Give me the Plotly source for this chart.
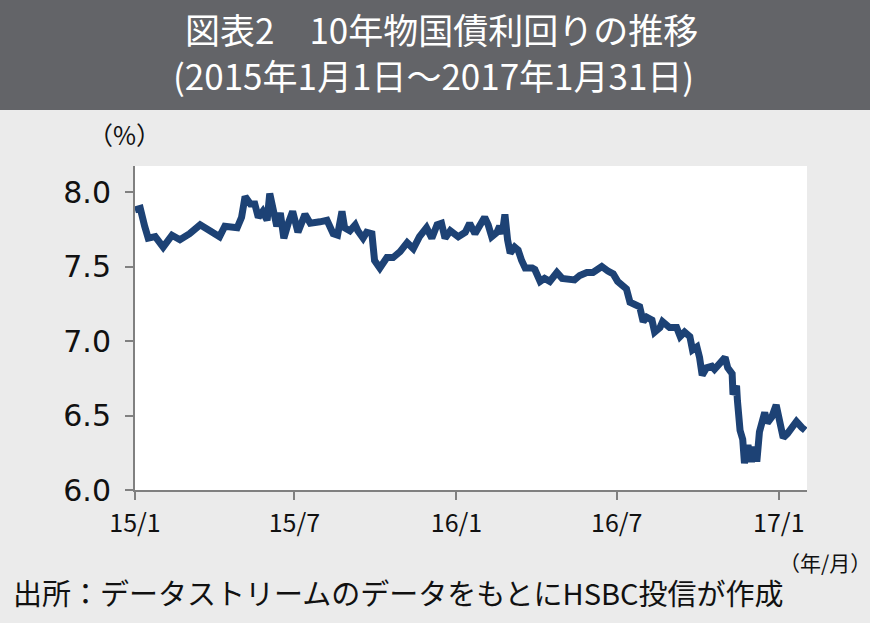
import plotly.graph_objects as go

dates = [
    "2015-01-01", "2015-01-07", "2015-01-12", "2015-01-16", "2015-01-24", "2015-02-02",
    "2015-02-12", "2015-02-21", "2015-03-04", "2015-03-16", "2015-03-27", "2015-04-07",
    "2015-04-13", "2015-04-27", "2015-05-02", "2015-05-06", "2015-05-12", "2015-05-17",
    "2015-05-21", "2015-05-26", "2015-05-31", "2015-06-03", "2015-06-07", "2015-06-11",
    "2015-06-15", "2015-06-19", "2015-06-24", "2015-06-29", "2015-07-05", "2015-07-13",
    "2015-07-19", "2015-07-24", "2015-07-30", "2015-08-07", "2015-08-14", "2015-08-19",
    "2015-08-24", "2015-08-27", "2015-09-02", "2015-09-08", "2015-09-11", "2015-09-17",
    "2015-09-21", "2015-09-27", "2015-09-30", "2015-10-06", "2015-10-14", "2015-10-21",
    "2015-10-29", "2015-11-06", "2015-11-13", "2015-11-20", "2015-11-28", "2015-12-04",
    "2015-12-10", "2015-12-15", "2015-12-19", "2015-12-25", "2016-01-03", "2016-01-11",
    "2016-01-16", "2016-01-22", "2016-01-28", "2016-02-02", "2016-02-06", "2016-02-10",
    "2016-02-16", "2016-02-19", "2016-02-22", "2016-02-25", "2016-02-28", "2016-03-02",
    "2016-03-07", "2016-03-11", "2016-03-15", "2016-03-19", "2016-03-27", "2016-03-30",
    "2016-04-05", "2016-04-10", "2016-04-16", "2016-04-24", "2016-04-30", "2016-05-09",
    "2016-05-14", "2016-05-20", "2016-05-28", "2016-06-04", "2016-06-14", "2016-06-21",
    "2016-06-27", "2016-07-02", "2016-07-08", "2016-07-12", "2016-07-16", "2016-07-24",
    "2016-07-27", "2016-07-31", "2016-08-04", "2016-08-10", "2016-08-13", "2016-08-19",
    "2016-08-22", "2016-08-30", "2016-09-07", "2016-09-11", "2016-09-16", "2016-09-22",
    "2016-09-25", "2016-09-30", "2016-10-03", "2016-10-06", "2016-10-11", "2016-10-17",
    "2016-10-20", "2016-10-26", "2016-11-01", "2016-11-04", "2016-11-09", "2016-11-10",
    "2016-11-14", "2016-11-15", "2016-11-18", "2016-11-21", "2016-11-23", "2016-11-27",
    "2016-12-01", "2016-12-05", "2016-12-07", "2016-12-10", "2016-12-16", "2016-12-19",
    "2016-12-24", "2016-12-29", "2017-01-02", "2017-01-06", "2017-01-11", "2017-01-17",
    "2017-01-21", "2017-01-27", "2017-01-31",
]
yields = [
    7.88, 7.89, 7.77, 7.69, 7.70, 7.63,
    7.71, 7.68, 7.72, 7.78, 7.74, 7.70,
    7.77, 7.76, 7.83, 7.97, 7.92, 7.92,
    7.83, 7.87, 7.81, 7.99, 7.88, 7.77,
    7.86, 7.69, 7.79, 7.87, 7.73, 7.85,
    7.79, 7.79, 7.80, 7.81, 7.72, 7.71,
    7.87, 7.76, 7.74, 7.78, 7.74, 7.69,
    7.73, 7.72, 7.54, 7.49, 7.56, 7.56,
    7.60, 7.66, 7.62, 7.70, 7.76, 7.69,
    7.78, 7.79, 7.69, 7.74, 7.70, 7.73,
    7.79, 7.72, 7.79, 7.83, 7.78, 7.70,
    7.73, 7.77, 7.72, 7.85, 7.68, 7.59,
    7.63, 7.61, 7.54, 7.49, 7.49, 7.48,
    7.40, 7.42, 7.40, 7.46, 7.42, 7.41,
    7.41, 7.44, 7.46, 7.46, 7.50, 7.47,
    7.45, 7.40, 7.36, 7.35, 7.26, 7.24,
    7.23, 7.13, 7.16, 7.14, 7.06, 7.09,
    7.13, 7.09, 7.09, 7.03, 7.06, 7.03,
    6.94, 6.96, 6.89, 6.77, 6.82, 6.83,
    6.81, 6.85, 6.89, 6.82, 6.78, 6.64,
    6.70, 6.60, 6.40, 6.34, 6.18, 6.30,
    6.19, 6.29, 6.19, 6.39, 6.52, 6.45,
    6.49, 6.57, 6.46, 6.35, 6.38, 6.42,
    6.46, 6.42, 6.40,
]

x_tick_vals = ["2015-01-01", "2015-07-01", "2016-01-01", "2016-07-01", "2017-01-01"]
x_tick_text = ["15/1", "15/7", "16/1", "16/7", "17/1"]
y_tick_vals = [6.0, 6.5, 7.0, 7.5, 8.0]
y_tick_text = ["6.0", "6.5", "7.0", "7.5", "8.0"]

title_line1 = "図表2　10年物国債利回りの推移"
title_line2 = "(2015年1月1日～2017年1月31日)"
y_unit = "（%）"
x_unit = "（年/月）"
source = "出所：データストリームのデータをもとにHSBC投信が作成"

FONT = "Noto Sans CJK JP, Noto Sans, sans-serif"
W, H = 870, 623
ML, MR, MT, MB = 135, 63, 166, 133
PW = W - ML - MR
PH = H - MT - MB


def px_x(px):
    return (px - ML) / PW


def px_y(py):
    return (H - MB - py) / PH


fig = go.Figure()
fig.add_trace(go.Scatter(
    x=dates, y=yields, mode="lines",
    line=dict(color="#1d4275", width=7),
    showlegend=False, hoverinfo="skip",
))

fig.add_shape(type="rect", xref="paper", yref="paper",
              x0=px_x(-5), x1=px_x(W + 5), y0=px_y(110), y1=px_y(-5),
              fillcolor="#636468", line=dict(width=0), layer="below")

annotations = [
    dict(text=title_line1, x=px_x(441), y=px_y(29), font=dict(size=35, color="white")),
    dict(text=title_line2, x=px_x(433), y=px_y(74), font=dict(size=35, color="white")),
    dict(text=y_unit, x=px_x(124), y=px_y(134), font=dict(size=25, color="#111")),
    dict(text=x_unit, x=px_x(825), y=px_y(562), font=dict(size=21, color="#111")),
    dict(text=source, x=px_x(398), y=px_y(592), font=dict(size=29, color="#111")),
]
for a in annotations:
    a.update(xref="paper", yref="paper", showarrow=False,
             xanchor="center", yanchor="middle")
fig.update_layout(annotations=annotations)

fig.update_layout(
    width=W, height=H,
    margin=dict(l=ML, r=MR, t=MT, b=MB, pad=0),
    paper_bgcolor="#ebebeb",
    plot_bgcolor="white",
    font=dict(family=FONT, color="#111"),
    xaxis=dict(
        type="date", range=["2015-01-01", "2017-02-02"],
        tickvals=x_tick_vals, ticktext=x_tick_text,
        showgrid=False, zeroline=False,
        showline=True, linecolor="#808080", linewidth=2,
        ticks="outside", ticklen=8, tickwidth=2, tickcolor="#808080",
        tickfont=dict(size=25, color="#111"), ticklabelstandoff=2,
    ),
    yaxis=dict(
        range=[6.0, 8.0 + 26 / 149],
        tickvals=y_tick_vals, ticktext=y_tick_text,
        showgrid=False, zeroline=False,
        showline=True, linecolor="#808080", linewidth=2,
        ticks="outside", ticklen=8, tickwidth=2, tickcolor="#808080",
        tickfont=dict(size=30, color="#111", family="DejaVu Sans, sans-serif"),
        ticklabelstandoff=8,
    ),
)

fig.write_html("out.html", config={"displayModeBar": False})

with open("out.html", encoding="utf-8") as f:
    html = f.read()
html = html.replace("<head>", "<head><style>html,body{margin:0;padding:0;overflow:hidden;}</style>", 1)
with open("out.html", "w", encoding="utf-8") as f:
    f.write(html)
